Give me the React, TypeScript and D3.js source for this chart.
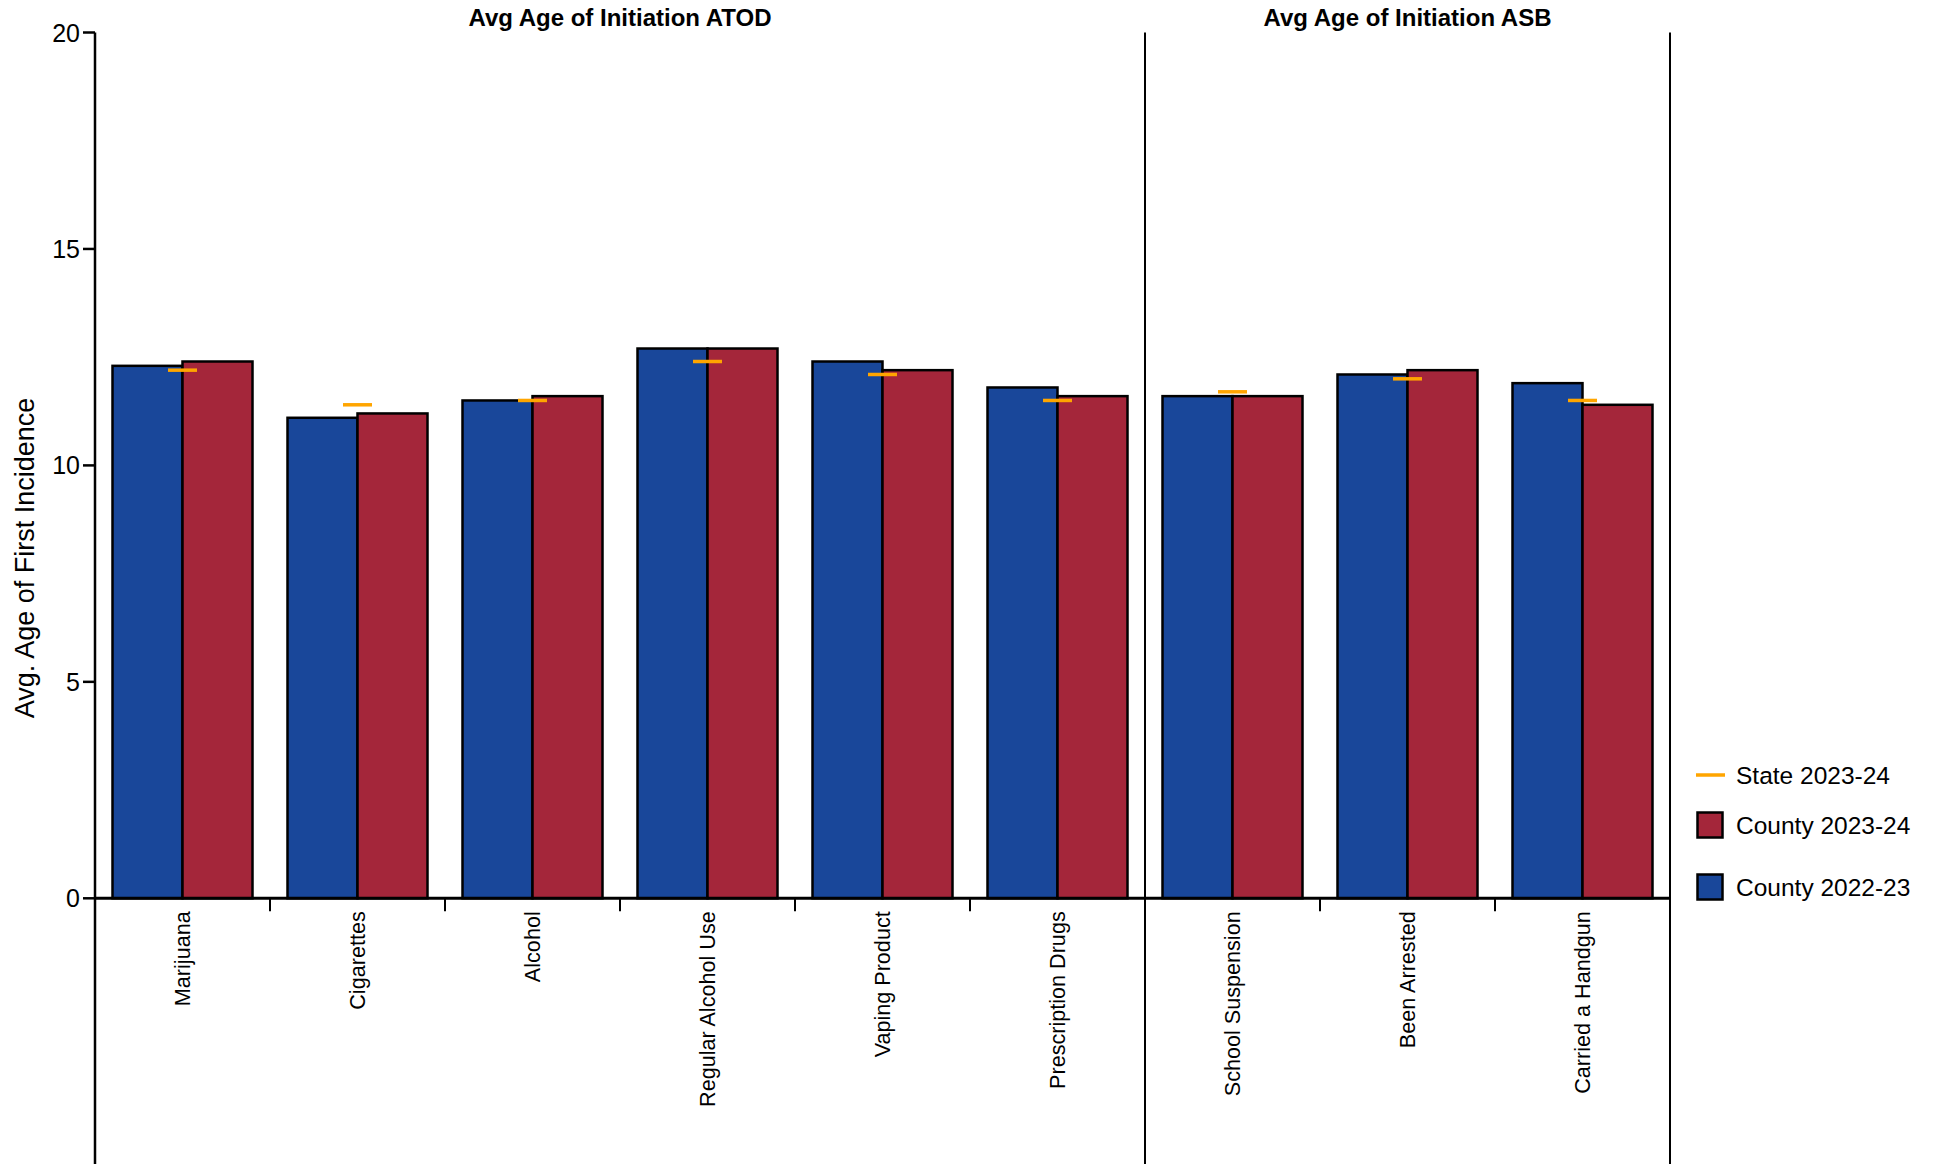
import React from "react";
import * as d3 from "d3";

const categories = [
  "Marijuana",
  "Cigarettes",
  "Alcohol",
  "Regular Alcohol Use",
  "Vaping Product",
  "Prescription Drugs",
  "School Suspension",
  "Been Arrested",
  "Carried a Handgun",
];
const county2223 = [12.3, 11.1, 11.5, 12.7, 12.4, 11.8, 11.6, 12.1, 11.9];
const county2324 = [12.4, 11.2, 11.6, 12.7, 12.2, 11.6, 11.6, 12.2, 11.4];
const state2324 = [12.2, 11.4, 11.5, 12.4, 12.1, 11.5, 11.7, 12.0, 11.5];
const groups = [
  { title: "Avg Age of Initiation ATOD", start: 0, end: 6 },
  { title: "Avg Age of Initiation ASB", start: 6, end: 9 },
];
const yTicks = [0, 5, 10, 15, 20];
const legendItems = [
  { label: "State 2023-24", kind: "line" },
  { label: "County 2023-24", kind: "red" },
  { label: "County 2022-23", kind: "blue" },
];

const W = 1933;
const H = 1164;
const left = 95;
const right = 1670;
const top = 32.5;
const bottom = 898.3;
const BLUE = "#19479A";
const RED = "#A4263A";
const ORANGE = "#FFA500";
const FONT = "Liberation Sans, Arial, sans-serif";

export default function App() {
  const x = d3
    .scaleBand<string>()
    .domain(categories)
    .range([left, right])
    .paddingInner(0.2)
    .paddingOuter(0.1);
  const step = x.step();
  const bw = x.bandwidth();
  const y = d3.scaleLinear().domain([0, 20]).range([bottom, top]);
  const boundary = (i: number) => left + i * step;
  const legendY = [775, 825, 887];

  return (
    <svg
      width={W}
      height={H}
      style={{ position: "absolute", left: 0, top: 0, display: "block" }}
      fontFamily={FONT}
    >
      {/* group titles */}
      {groups.map((g) => (
        <text
          key={g.title}
          x={(boundary(g.start) + boundary(g.end)) / 2}
          y={26}
          textAnchor="middle"
          fontWeight="bold"
          fontSize={24}
          fill="#000"
        >
          {g.title}
        </text>
      ))}

      {/* bars */}
      {categories.map((c, i) => {
        const x0 = x(c) as number;
        const cx = x0 + bw / 2;
        return (
          <g key={c}>
            <rect
              x={x0}
              y={y(county2223[i])}
              width={bw / 2}
              height={y(0) - y(county2223[i])}
              fill={BLUE}
              stroke="#000"
              strokeWidth={2.5}
            />
            <rect
              x={cx}
              y={y(county2324[i])}
              width={bw / 2}
              height={y(0) - y(county2324[i])}
              fill={RED}
              stroke="#000"
              strokeWidth={2.5}
            />
            <line
              x1={cx - 14.5}
              x2={cx + 14.5}
              y1={y(state2324[i])}
              y2={y(state2324[i])}
              stroke={ORANGE}
              strokeWidth={3.5}
            />
          </g>
        );
      })}

      {/* y axis */}
      <line x1={left} x2={left} y1={top} y2={H} stroke="#000" strokeWidth={2.5} />
      {yTicks.map((t) => (
        <g key={t}>
          <line x1={left - 12} x2={left} y1={y(t)} y2={y(t)} stroke="#000" strokeWidth={2.5} />
          <text
            x={left - 15}
            y={y(t)}
            dy="0.36em"
            textAnchor="end"
            fontSize={25}
            fill="#000"
          >
            {t}
          </text>
        </g>
      ))}
      <text
        transform={`translate(34,558) rotate(-90)`}
        textAnchor="middle"
        fontSize={27}
        fill="#000"
      >
        Avg. Age of First Incidence
      </text>

      {/* x axis */}
      <line x1={left} x2={right} y1={bottom} y2={bottom} stroke="#000" strokeWidth={3} />
      {categories.map((_, i) =>
        i > 0 && i !== 6 ? (
          <line
            key={"t" + i}
            x1={boundary(i)}
            x2={boundary(i)}
            y1={bottom}
            y2={bottom + 13}
            stroke="#000"
            strokeWidth={2}
          />
        ) : null
      )}
      <line x1={boundary(6)} x2={boundary(6)} y1={top} y2={H} stroke="#000" strokeWidth={2} />
      <line x1={right} x2={right} y1={top} y2={H} stroke="#000" strokeWidth={2} />
      {categories.map((c) => (
        <text
          key={"l" + c}
          transform={`translate(${(x(c) as number) + bw / 2},${bottom + 13}) rotate(-90)`}
          dy="0.36em"
          textAnchor="end"
          fontSize={21.6}
          fill="#000"
        >
          {c}
        </text>
      ))}

      {/* legend */}
      {legendItems.map((it, i) => (
        <g key={it.label}>
          {it.kind === "line" ? (
            <line
              x1={1696}
              x2={1725}
              y1={legendY[i]}
              y2={legendY[i]}
              stroke={ORANGE}
              strokeWidth={3.5}
            />
          ) : (
            <rect
              x={1697.5}
              y={legendY[i] - 12.5}
              width={25}
              height={25}
              fill={it.kind === "red" ? RED : BLUE}
              stroke="#000"
              strokeWidth={2.5}
            />
          )}
          <text x={1736} y={legendY[i]} dy="0.36em" fontSize={24.5} fill="#000">
            {it.label}
          </text>
        </g>
      ))}
    </svg>
  );
}
